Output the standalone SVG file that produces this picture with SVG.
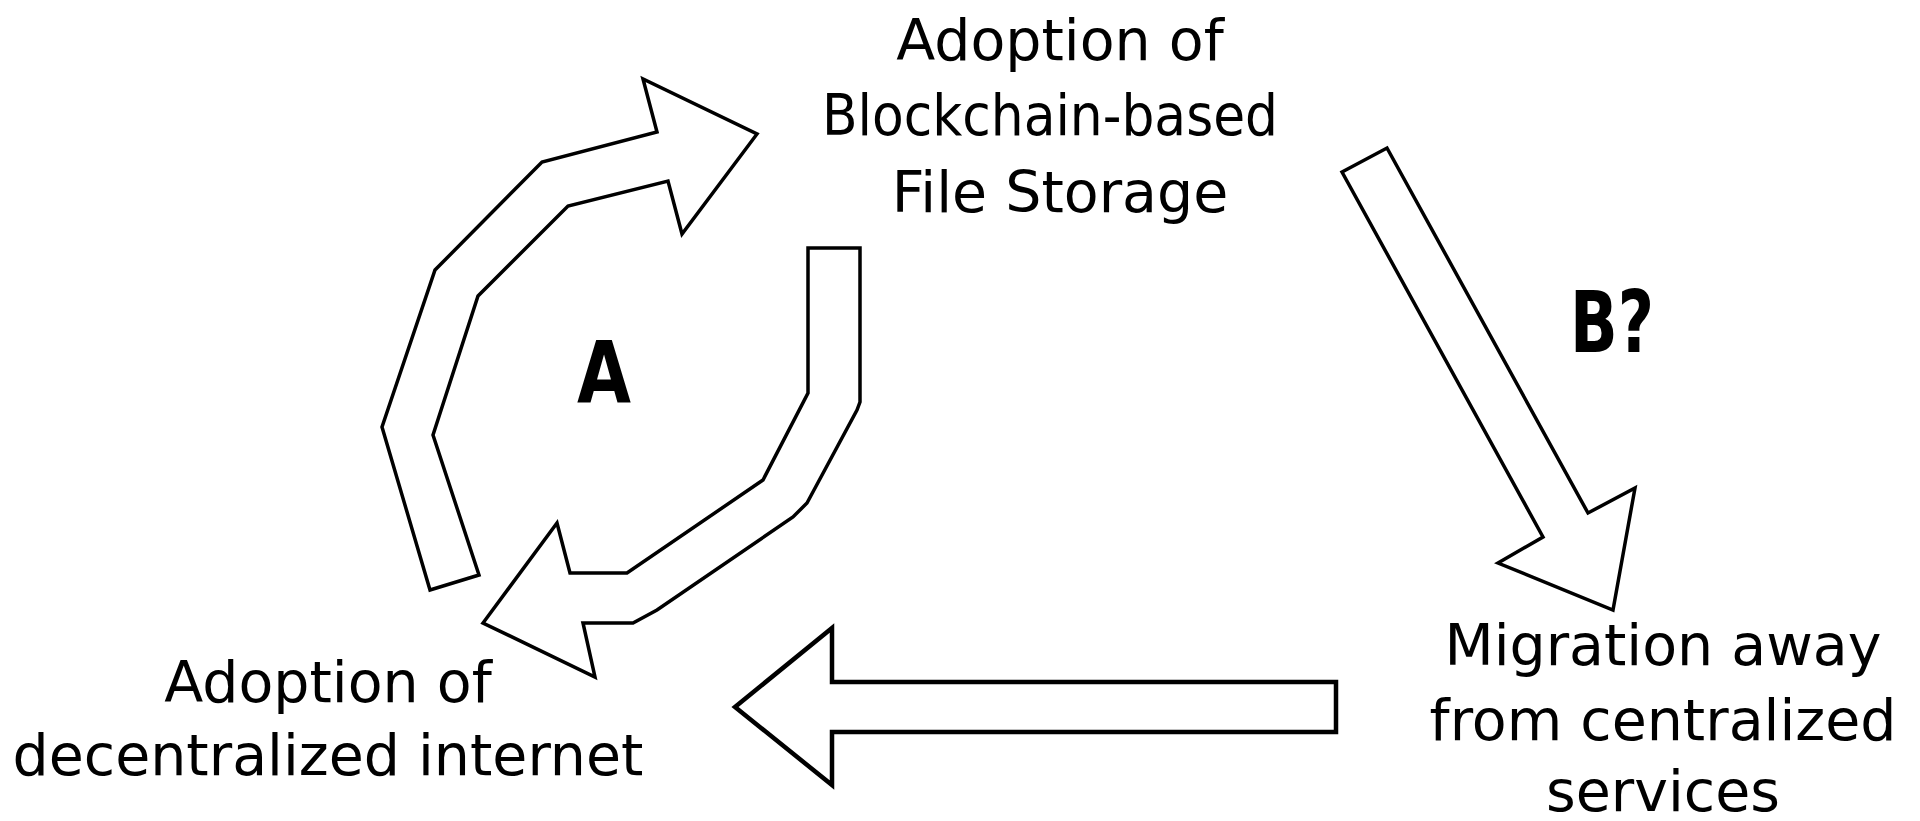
<svg xmlns="http://www.w3.org/2000/svg" width="1920" height="821" viewBox="0 0 1920 821">
<style>
.bg{fill:#ffffff}
.lbl{font-family:"DejaVu Sans","Liberation Sans",sans-serif;font-size:57px;fill:#000;text-anchor:middle}
.big{font-family:"DejaVu Sans","Liberation Sans",sans-serif;font-size:86px;font-weight:bold;fill:#000;text-anchor:middle}
.arrow{fill:#ffffff;stroke:#000;stroke-width:3.5;stroke-linejoin:miter}
.arrow.thick{stroke-width:4.5}
</style>
<rect class="bg" x="0" y="0" width="1920" height="821"/>
<g id="connectors">
  <polygon id="arc-up" class="arrow" points="430,590 382,427 435,270 542,162 657,132 643,79 757,134 682,234 668,181 568,206 478,296 433,435 479,575"/>
  <polygon id="arc-down" class="arrow" points="808,248 860,248 860,402 857,410 807,503 793,517 657,610 633,623 583,623 595,677 483,623 557,523 570,573 627,573 763,480 808,393"/>
  <polygon id="arrow-b" class="arrow" points="1342,172 1387,148 1588,513 1635,488 1613,610 1498,563 1543,537"/>
  <polygon id="arrow-back" class="arrow thick" points="735,707 832,628 832,682 1336,682 1336,732 832,732 832,785"/>
</g>
<g id="label-a"><text class="big" x="604" y="402" textLength="54" lengthAdjust="spacingAndGlyphs">A</text></g>
<g id="label-b"><text class="big" x="1612" y="352" textLength="84" lengthAdjust="spacingAndGlyphs">B?</text></g>
<g id="node-blockchain">
  <text class="lbl" x="1060" y="60">Adoption of</text>
  <text class="lbl" x="1050" y="135" textLength="456" lengthAdjust="spacingAndGlyphs">Blockchain-based</text>
  <text class="lbl" x="1060" y="212">File Storage</text>
</g>
<g id="node-decentralized">
  <text class="lbl" x="328" y="702">Adoption of</text>
  <text class="lbl" x="328" y="775">decentralized internet</text>
</g>
<g id="node-migration">
  <text class="lbl" x="1663" y="665">Migration away</text>
  <text class="lbl" x="1663" y="740">from centralized</text>
  <text class="lbl" x="1663" y="811">services</text>
</g>
</svg>
